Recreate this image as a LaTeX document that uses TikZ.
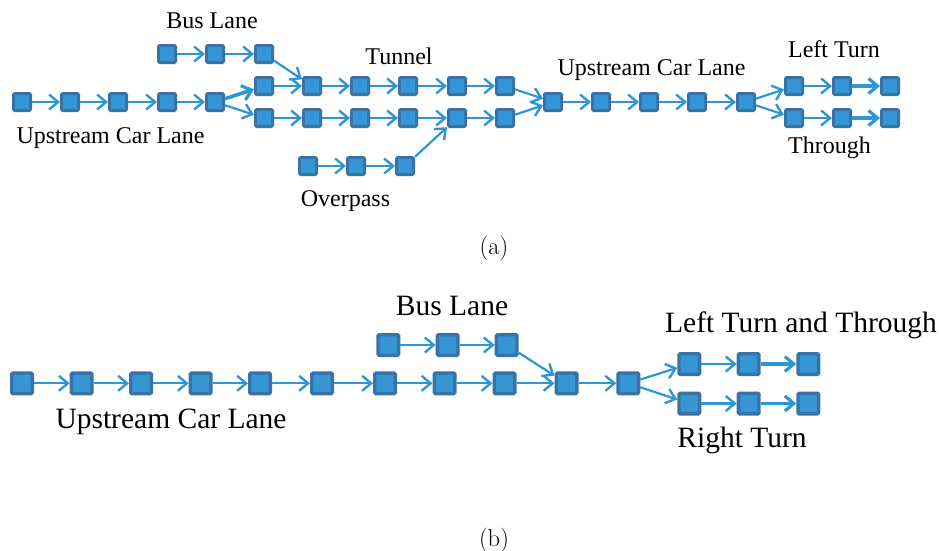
\documentclass[tikz,border=0pt]{standalone}
\usepackage{fontspec}
\usetikzlibrary{arrows.meta}
\newfontfamily\tnr{Liberation Serif}
\definecolor{nodeb}{RGB}{56,114,166}
\definecolor{nodef}{RGB}{54,150,211}
\definecolor{arc}{RGB}{46,150,212}
\tikzset{
  na/.style={rectangle, draw=nodeb, fill=nodef, line width=2.8pt, minimum size=17.2pt, inner sep=0pt, rounded corners=1.2pt},
  nb/.style={na, line width=3.4pt, minimum size=20.6pt},
  ar/.style={draw=arc, line width=2.2pt, -{Straight Barb[length=9pt,width=15pt,line width=2.4pt]}},
  thk/.style={draw=arc, line width=3.6pt, -{Straight Barb[length=9pt,width=15pt,line width=3.2pt]}},
  la/.style={font=\tnr\fontsize{24}{28}\selectfont, anchor=base, inner sep=0pt},
  lb/.style={font=\tnr\fontsize{29.5}{34}\selectfont, anchor=base, inner sep=0pt},
  captxt/.style={font=\fontsize{24.5}{28}\selectfont, anchor=base, inner sep=0pt}
}
\begin{document}
\begin{tikzpicture}[x=1pt,y=-1pt]
\useasboundingbox (0,0) rectangle (939,550);
% ---------- (a) ----------
\foreach \x [count=\i] in {22,70,118,167,215} \node[na] (u\i) at (\x,102) {};
\foreach \x [count=\i] in {167,215,264} \node[na] (b\i) at (\x,54) {};
\foreach \x [count=\i] in {264,312,360,408,457,505} {
  \node[na] (t\i) at (\x,86) {};
  \node[na] (l\i) at (\x,118) {};
}
\foreach \x [count=\i] in {308,356,405} \node[na] (o\i) at (\x,166) {};
\foreach \x [count=\i] in {553,601,649,697,746} \node[na] (d\i) at (\x,102) {};
\foreach \x [count=\i] in {794,842,890} {
  \node[na] (L\i) at (\x,86) {};
  \node[na] (T\i) at (\x,118) {};
}
\foreach \a/\b in {u1/u2,u2/u3,u3/u4,u4/u5,u5/l1,b1/b2,b2/b3,b3/t2,
  t1/t2,t2/t3,t3/t4,t4/t5,t5/t6,l1/l2,l2/l3,l3/l4,l4/l5,l5/l6,
  o1/o2,o2/o3,o3/l5,t6/d1,l6/d1,d1/d2,d2/d3,d3/d4,d4/d5,d5/L1,d5/T1,L1/L2,T1/T2}
  \draw[ar] (\a) -- (\b);
\draw[thk] (u5) -- (t1);
\draw[thk] (L2) -- (L3);
\draw[thk] (T2) -- (T3);
\node[la] (labus) at (212,28) {Bus Lane};
\node[la] (laup) at (110.5,143) {Upstream Car Lane};
\node[la] (latun) at (399,64) {Tunnel};
\node[la] (laover) at (345.5,206) {Overpass};
\node[la] (laup2) at (651.5,75) {Upstream Car Lane};
\node[la] (laleft) at (834,57) {Left Turn};
\node[la] (lathr) at (829.5,153) {Through};
\node[captxt] (capa) at (494,254) {(a)};
% ---------- (b) ----------
\foreach \x [count=\i] in {22,81.7,141,200.7,260,322,385,444.5,504.5,566.5,628.3} \node[nb] (m\i) at (\x,383.3) {};
\foreach \x [count=\i] in {388.3,447.7,506.7} \node[nb] (B\i) at (\x,345) {};
\foreach \x [count=\i] in {689.3,748.7,808.3} {
  \node[nb] (LT\i) at (\x,364) {};
  \node[nb] (R\i) at (\x,403.5) {};
}
\foreach \a/\b in {m1/m2,m2/m3,m3/m4,m4/m5,m5/m6,m6/m7,m7/m8,m8/m9,m9/m10,m10/m11,
  B1/B2,B2/B3,B3/m10,m11/LT1,m11/R1,LT1/LT2,R1/R2}
  \draw[ar] (\a) -- (\b);
\draw[thk] (LT2) -- (LT3);
\draw[thk] (R2) -- (R3);
\node[lb] (lbbus) at (452,315) {Bus Lane};
\node[lb] (lbleft) at (801,332) {Left Turn and Through};
\node[lb] (lbright) at (742,447) {Right Turn};
\node[lb] (lbup) at (171,428) {Upstream Car Lane};
\node[captxt] (capb) at (494,546) {(b)};
\end{tikzpicture}
\end{document}
